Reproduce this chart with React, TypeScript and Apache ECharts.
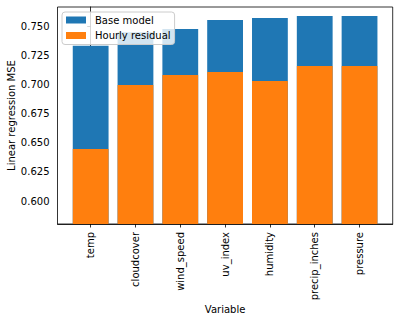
import React, { useEffect, useRef } from "react";
import * as echarts from "echarts";

const categories = ["temp", "cloudcover", "wind_speed", "uv_index", "humidity", "precip_inches", "pressure"];
const baseModel = [0.733, 0.7446, 0.7474, 0.7551, 0.7569, 0.7586, 0.7586];
const hourlyResidual = [0.6446, 0.6994, 0.708, 0.7106, 0.7029, 0.7157, 0.7157];
const yTicks = [0.6, 0.625, 0.65, 0.675, 0.7, 0.725, 0.75];
const xTicks = [0, 1, 2, 3, 4, 5, 6];

const FONT = "DejaVu Sans";

export default function App() {
  const ref = useRef<HTMLDivElement>(null);
  useEffect(() => {
    document.body.style.margin = "0";
    const chart = echarts.init(ref.current!, null, { renderer: "svg" });
    chart.setOption({
      animation: false,
      grid: {
        left: 57.5,
        top: 7,
        right: 5.3,
        bottom: 97,
        containLabel: false,
        outerBoundsMode: "none",
        show: true,
        borderColor: "#000",
        borderWidth: 0.8,
        backgroundColor: "transparent",
      },
      legend: {
        orient: "vertical",
        left: 62,
        top: 12,
        padding: [2, 4, 3, 4],
        itemGap: 3.5,
        itemWidth: 20,
        itemHeight: 7,
        icon: "rect",
        backgroundColor: "rgba(255,255,255,0.8)",
        borderColor: "#ccc",
        borderWidth: 1,
        borderRadius: 3,
        textStyle: { fontFamily: FONT, fontSize: 10, color: "#000", lineHeight: 12, padding: [0, 0, 0, 4] },
        data: ["Base model", "Hourly residual"],
      },
      xAxis: {
        type: "value",
        min: -0.74,
        max: 6.74,
        name: "Variable",
        nameLocation: "middle",
        nameGap: 80,
        nameMoveOverlap: false,
        nameTextStyle: { fontFamily: FONT, fontSize: 10, color: "#000" },
        splitLine: { show: false },
        axisLine: { show: true, onZero: false, lineStyle: { color: "#000", width: 0.8 } },
        axisTick: { show: true, length: 3.5, lineStyle: { color: "#000", width: 0.8 }, customValues: xTicks },
        axisLabel: {
          customValues: xTicks,
          rotate: 90,
          margin: 8,
          fontFamily: FONT,
          fontSize: 10,
          color: "#000",
          formatter: (v: number) => categories[Math.round(v)] ?? "",
        },
      },
      yAxis: {
        type: "value",
        min: 0.5803,
        max: 0.7663,
        name: "Linear regression MSE",
        nameLocation: "middle",
        nameGap: 41,
        nameMoveOverlap: false,
        nameTextStyle: { fontFamily: FONT, fontSize: 10, color: "#000" },
        splitLine: { show: false },
        axisLine: { show: true, lineStyle: { color: "#000", width: 0.8 } },
        axisTick: { show: true, length: 3.5, lineStyle: { color: "#000", width: 0.8 }, customValues: yTicks },
        axisLabel: {
          customValues: yTicks,
          margin: 8,
          fontFamily: FONT,
          fontSize: 10,
          color: "#000",
          formatter: (v: number) => v.toFixed(3),
        },
      },
      series: [
        {
          name: "Base model",
          type: "bar",
          barWidth: 35.8,
          barGap: "-100%",
          itemStyle: { color: "#1f77b4" },
          data: baseModel.map((v, i) => [i, v]),
        },
        {
          name: "Hourly residual",
          type: "bar",
          barWidth: 35.8,
          barGap: "-100%",
          itemStyle: { color: "#ff7f0e" },
          data: hourlyResidual.map((v, i) => [i, v]),
        },
      ],
    });
    return () => chart.dispose();
  }, []);
  return <div ref={ref} style={{ width: 398, height: 321 }} />;
}
